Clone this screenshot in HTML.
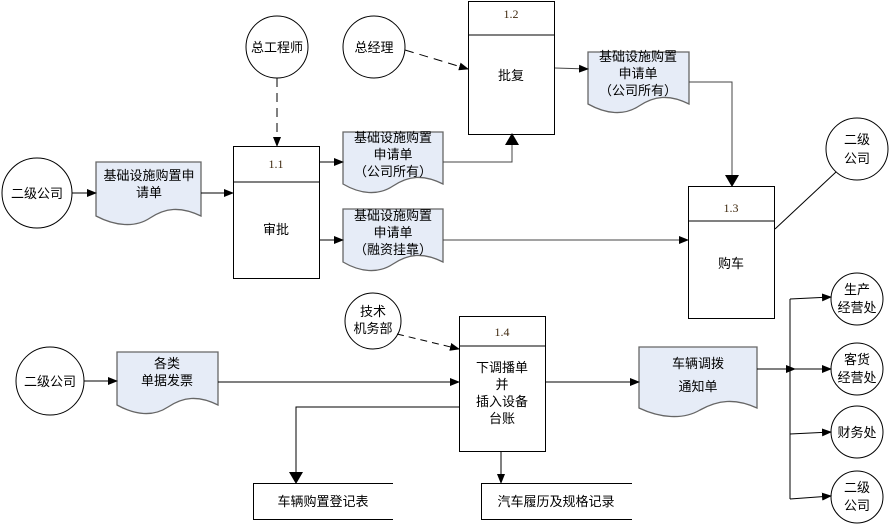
<!DOCTYPE html>
<html><head><meta charset="utf-8"><style>
html,body{margin:0;padding:0;background:#fff;}
svg text{font-family:"Liberation Sans","Noto Sans CJK SC",sans-serif;font-size:13px;fill:#000;}
.num{font-family:"Liberation Serif",serif;font-size:12px;fill:#402a10;}
</style></head><body>
<svg width="890" height="524" viewBox="0 0 890 524" xmlns="http://www.w3.org/2000/svg">
<defs>
<marker id="a" markerWidth="10" markerHeight="8" refX="9" refY="4" orient="auto" markerUnits="userSpaceOnUse"><path d="M0,0 L10,4 L0,8 z" fill="#000"/></marker>
<marker id="b" markerWidth="12" markerHeight="14" refX="11" refY="7" orient="auto" markerUnits="userSpaceOnUse"><path d="M0,0 L12,7 L0,14 z" fill="#000"/></marker>
</defs>
<g fill="none" stroke="#000" stroke-width="1">
<!-- circles -->
<circle cx="37" cy="193" r="35"/>
<circle cx="277" cy="47" r="31"/>
<circle cx="374" cy="47" r="31"/>
<circle cx="857" cy="149" r="31"/>
<circle cx="373" cy="321" r="28"/>
<circle cx="50" cy="381" r="34"/>
<circle cx="857" cy="299" r="26"/>
<circle cx="857" cy="369" r="26"/>
<circle cx="857" cy="432" r="26"/>
<circle cx="857" cy="497" r="26"/>
<!-- boxes -->
<rect x="233.5" y="146.5" width="86" height="132"/><line x1="233" y1="182" x2="320" y2="182"/>
<rect x="468.5" y="1.5" width="86" height="133"/><line x1="468" y1="35" x2="555" y2="35"/>
<rect x="688.5" y="186.5" width="86" height="132"/><line x1="688" y1="221" x2="775" y2="221"/>
<rect x="459.5" y="316.5" width="86" height="135"/><line x1="459" y1="346" x2="546" y2="346"/>
<!-- open stores -->
<path d="M393,483.5 H253.5 V519.5 H393"/>
<path d="M632,483.5 H481.5 V519.5 H632"/>
</g>
<!-- documents -->
<g fill="#e6ecf7" stroke="#666" stroke-width="1.3">
<path d="M96,162 H201 V216 C180,206 165,208 150,218 C135,228 115,226 96,216 Z"/>
<path d="M343,132 H443 V184 C423,174 408,176 393,186 C378,196 360,194 343,184 Z"/>
<path d="M343,209 H443 V262 C423,252 408,254 393,264 C378,274 360,272 343,262 Z"/>
<path d="M588,52 H689 V104 C669,94 654,96 639,106 C624,116 606,114 588,104 Z"/>
<path d="M117,352 H218 V405 C198,395 183,397 168,407 C153,417 135,415 117,405 Z"/>
<path d="M639,347 H757 V408 C735,398 718,400 700,410 C683,420 660,418 639,408 Z"/>
</g>
<!-- connectors -->
<g fill="none" stroke="#000" stroke-width="1">
<line x1="72" y1="193" x2="96" y2="193" marker-end="url(#a)"/>
<line x1="201" y1="193" x2="233" y2="193" marker-end="url(#a)"/>
<line x1="320" y1="162" x2="343" y2="162" marker-end="url(#a)"/>
<line x1="320" y1="240" x2="343" y2="240" marker-end="url(#a)"/>
<path d="M443,162 H512 V134" stroke="#444" marker-end="url(#b)"/>
<line x1="443" y1="240" x2="688" y2="240" stroke="#444" marker-end="url(#a)"/>
<line x1="555" y1="68" x2="588" y2="69" stroke="#444" marker-end="url(#a)"/>
<path d="M689,82 H732 V186" stroke="#444" marker-end="url(#b)"/>
<line x1="775" y1="229" x2="836" y2="172"/>
<line x1="277" y1="78" x2="277" y2="146" stroke-dasharray="9,6" marker-end="url(#a)"/>
<line x1="405" y1="50" x2="468" y2="69" stroke-dasharray="9,6" marker-end="url(#a)"/>
<line x1="397" y1="334" x2="459" y2="349" stroke-dasharray="7,5" marker-end="url(#a)"/>
<line x1="84" y1="381" x2="117" y2="381" marker-end="url(#a)"/>
<line x1="218" y1="382" x2="459" y2="382" marker-end="url(#a)"/>
<line x1="546" y1="382" x2="639" y2="382" marker-end="url(#a)"/>
<line x1="757" y1="369" x2="795" y2="369" marker-end="url(#a)"/>
<path d="M459,407 H296 V483" marker-end="url(#b)"/>
<line x1="501" y1="451" x2="501" y2="483" marker-end="url(#a)"/>
<line x1="790" y1="299" x2="790" y2="499"/>
<line x1="790" y1="299" x2="831" y2="297" marker-end="url(#a)"/>
<line x1="790" y1="369" x2="831" y2="369" marker-end="url(#a)"/>
<line x1="790" y1="434" x2="831" y2="432" marker-end="url(#a)"/>
<line x1="790" y1="499" x2="831" y2="496" marker-end="url(#a)"/>
</g>
<!-- text -->
<g text-anchor="middle">
<text x="37" y="198">二级公司</text>
<text x="277" y="52">总工程师</text>
<text x="374" y="52">总经理</text>
<text x="857" y="144">二级</text><text x="857" y="163">公司</text>
<text x="373" y="316">技术</text><text x="373" y="333">机务部</text>
<text x="50" y="386">二级公司</text>
<text x="857" y="294">生产</text><text x="857" y="312">经营处</text>
<text x="857" y="364">客货</text><text x="857" y="382">经营处</text>
<text x="857" y="437">财务处</text>
<text x="857" y="492">二级</text><text x="857" y="510">公司</text>
<text class="num" x="276" y="168">1.1</text>
<text x="276" y="234">审批</text>
<text class="num" x="511" y="18">1.2</text>
<text x="511" y="80">批复</text>
<text class="num" x="731" y="212">1.3</text>
<text x="731" y="268">购车</text>
<text class="num" x="502" y="336">1.4</text>
<text x="502" y="372">下调播单</text><text x="502" y="389">并</text><text x="502" y="406">插入设备</text><text x="502" y="423">台账</text>
<text x="149" y="180">基础设施购置申</text><text x="149" y="197">请单</text>
<text x="393" y="142">基础设施购置</text><text x="393" y="159">申请单</text><text x="393" y="176">（公司所有）</text>
<text x="393" y="220">基础设施购置</text><text x="393" y="237">申请单</text><text x="393" y="254">（融资挂靠）</text>
<text x="638" y="61">基础设施购置</text><text x="638" y="78">申请单</text><text x="638" y="95">（公司所有）</text>
<text x="167" y="368">各类</text><text x="167" y="385">单据发票</text>
<text x="698" y="368">车辆调拨</text><text x="698" y="391">通知单</text>
<text x="323" y="506">车辆购置登记表</text>
<text x="556" y="506">汽车履历及规格记录</text>
</g>
</svg>
</body></html>
